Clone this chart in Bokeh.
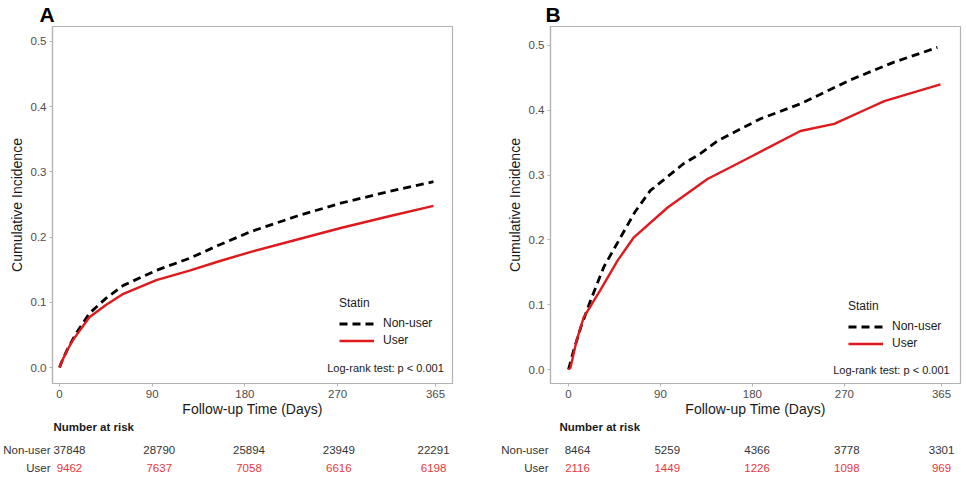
from bokeh.plotting import figure
from bokeh.layouts import row, column
from bokeh.models import (Range1d, Legend, LegendItem, Label, FixedTicker,
                          NumeralTickFormatter, ColumnDataSource)
from bokeh.core.properties import value
from bokeh.embed import file_html
from bokeh.resources import INLINE

FONT = "Liberation Sans"

x_ticks = [0, 90, 180, 270, 365]
y_ticks = [0.0, 0.1, 0.2, 0.3, 0.4, 0.5]
groups = ["Non-user", "User"]

# Panel A: cumulative incidence curves
a_nonuser_days = [0, 3, 8, 16, 29, 45, 62, 94, 127, 155, 185, 230, 273, 320, 363]
a_nonuser_ci = [0.0, 0.012, 0.029, 0.052, 0.083, 0.106, 0.126, 0.149, 0.168, 0.188, 0.208, 0.232, 0.252, 0.270, 0.285]
a_user_days = [0, 3, 8, 13, 29, 45, 62, 94, 127, 155, 185, 230, 273, 320, 363]
a_user_ci = [0.0, 0.012, 0.028, 0.042, 0.077, 0.096, 0.113, 0.134, 0.149, 0.163, 0.177, 0.196, 0.214, 0.232, 0.248]

# Panel B
b_nonuser_days = [0, 5, 12, 21.5, 34.5, 51, 65, 80, 113, 129, 146, 188, 227, 276, 318, 361]
b_nonuser_ci = [0.0, 0.029, 0.065, 0.106, 0.158, 0.204, 0.243, 0.276, 0.318, 0.333, 0.353, 0.387, 0.410, 0.447, 0.474, 0.497]
b_user_days = [0, 2, 8, 15, 31, 48, 64, 97, 136, 178, 227, 260, 292, 309, 364]
b_user_ci = [0.0, 0.003, 0.045, 0.081, 0.122, 0.168, 0.204, 0.250, 0.294, 0.328, 0.368, 0.379, 0.402, 0.414, 0.440]

# Number at risk
a_risk_nonuser = [37848, 28790, 25894, 23949, 22291]
a_risk_user = [9462, 7637, 7058, 6616, 6198]
b_risk_nonuser = [8464, 5259, 4366, 3778, 3301]
b_risk_user = [2116, 1449, 1226, 1098, 969]

GRAY = "#b3b3b3"
TXT = "#4d4d4d"
DARK = "#1a1a1a"
RED = "#e0191c"
RED_TXT = "#e8383d"

MAIN_H = 419
TOP = 26
BOTTOM = 36
TAB_H = 60
ROW_Y = {"head": 7.5, "Non-user": 30, "User": 48}


def style_axis(ax):
    ax.axis_line_color = GRAY
    ax.axis_line_width = 1.2
    ax.major_tick_line_color = GRAY
    ax.major_tick_out = 3
    ax.major_tick_in = 0
    ax.minor_tick_out = 0
    ax.minor_tick_in = 0
    ax.major_label_text_font = FONT
    ax.major_label_text_font_size = "11.5px"
    ax.major_label_text_color = TXT
    ax.major_label_standoff = 3
    ax.axis_label_text_font = FONT
    ax.axis_label_text_font_size = "14px"
    ax.axis_label_text_font_style = "normal"
    ax.axis_label_text_color = DARK


def make_panel(letter, nu_d, nu_v, u_d, u_v, risk_nu, risk_u,
               width, bl, br, xr, txr, yr, leg_loc, letter_dx, head_dx):
    p = figure(width=width, height=MAIN_H, x_range=Range1d(*xr), y_range=Range1d(*yr),
               output_backend="svg", toolbar_location=None,
               min_border_left=bl, min_border_right=br,
               min_border_top=TOP, min_border_bottom=BOTTOM)
    p.title.text = letter
    p.title.align = "left"
    p.title.offset = letter_dx
    p.title.standoff = 1
    p.title.text_font = FONT
    p.title.text_font_size = "21px"
    p.title.text_font_style = "bold"
    p.title.text_color = "black"
    p.xgrid.visible = False
    p.ygrid.visible = False
    p.outline_line_color = GRAY
    p.outline_line_width = 1.2
    p.xaxis.ticker = FixedTicker(ticks=x_ticks)
    p.yaxis.ticker = FixedTicker(ticks=y_ticks)
    p.yaxis.formatter = NumeralTickFormatter(format="0.0")
    style_axis(p.xaxis[0])
    style_axis(p.yaxis[0])
    p.xaxis.axis_label_standoff = 0
    p.yaxis.axis_label_standoff = 3
    p.xaxis.axis_label = "Follow-up Time (Days)"
    p.yaxis.axis_label = "Cumulative Incidence"

    r_nu = p.line(nu_d, nu_v, line_color="black", line_width=2.8, line_dash="8 5")
    r_u = p.line(u_d, u_v, line_color=RED, line_width=2.4)

    leg = Legend(items=[LegendItem(label=groups[0], renderers=[r_nu]),
                        LegendItem(label=groups[1], renderers=[r_u])],
                 title="Statin", location=leg_loc,
                 border_line_color=None, background_fill_alpha=0,
                 label_text_font=FONT, label_text_font_size="12px", label_text_color=DARK,
                 title_text_font=FONT, title_text_font_size="12px", title_text_color=DARK,
                 title_text_font_style="normal", title_standoff=5,
                 glyph_width=35, glyph_height=17, label_height=17, label_standoff=9,
                 spacing=0, padding=0, margin=0)
    p.add_layout(leg)

    p.add_layout(Label(x=373, y=0.0, text="Log-rank test: p < 0.001",
                       text_align="right", text_baseline="middle",
                       text_font=FONT, text_font_size="11px", text_color=DARK))

    # number-at-risk table (its own time scale, as in the original risk table)
    t = figure(width=width, height=TAB_H, x_range=Range1d(*txr), y_range=Range1d(TAB_H, 0),
               output_backend="svg", toolbar_location=None, x_axis_location=None,
               min_border_left=bl, min_border_right=br, min_border_top=0, min_border_bottom=0)
    t.xgrid.visible = False
    t.ygrid.visible = False
    t.outline_line_color = None
    ya = t.yaxis[0]
    ya.ticker = FixedTicker(ticks=[ROW_Y[g] for g in groups])
    ya.major_label_overrides = {ROW_Y[g]: g for g in groups}
    ya.axis_line_color = None
    ya.major_tick_line_color = None
    ya.minor_tick_line_color = None
    ya.major_tick_out = 0
    ya.major_tick_in = 0
    ya.minor_tick_out = 0
    ya.minor_tick_in = 0
    ya.major_label_text_font = FONT
    ya.major_label_text_font_size = "11.5px"
    ya.major_label_text_color = "#333333"
    ya.major_label_standoff = 2

    t.text(x=[0], y=[ROW_Y["head"]], text=["Number at risk"], x_offset=head_dx,
           text_align="left", text_baseline="middle", text_font=value(FONT),
           text_font_size="11.5px", text_font_style="bold", text_color=DARK)
    src_nu = ColumnDataSource(dict(x=x_ticks, y=[ROW_Y[groups[0]]] * len(x_ticks),
                                   t=[str(v) for v in risk_nu]))
    src_u = ColumnDataSource(dict(x=x_ticks, y=[ROW_Y[groups[1]]] * len(x_ticks),
                                  t=[str(v) for v in risk_u]))
    t.text(x="x", y="y", text="t", source=src_nu, text_align="center",
           text_baseline="middle", text_font=value(FONT), text_font_size="11.5px",
           text_color="#333333")
    t.text(x="x", y="y", text="t", source=src_u, text_align="center",
           text_baseline="middle", text_font=value(FONT), text_font_size="11.5px",
           text_color=RED_TXT)
    return column(p, t)


colA = make_panel("A", a_nonuser_days, a_nonuser_ci, a_user_days, a_user_ci,
                  a_risk_nonuser, a_risk_user,
                  475, 41, 23, (-6.8, 381.5), (-17.0, 384.0), (-0.0245, 0.523),
                  (287, 34.5), -13, -16)
colB = make_panel("B", b_nonuser_days, b_nonuser_ci, b_user_days, b_user_ci,
                  b_risk_nonuser, b_risk_user,
                  490, 75, 5, (-17.6, 383.6), (-27.07, 384.0), (-0.0216, 0.5293),
                  (298, 31.5), -5, -18)

layout = row(colA, colB)
open("out.html", "w").write(file_html(layout, INLINE))
